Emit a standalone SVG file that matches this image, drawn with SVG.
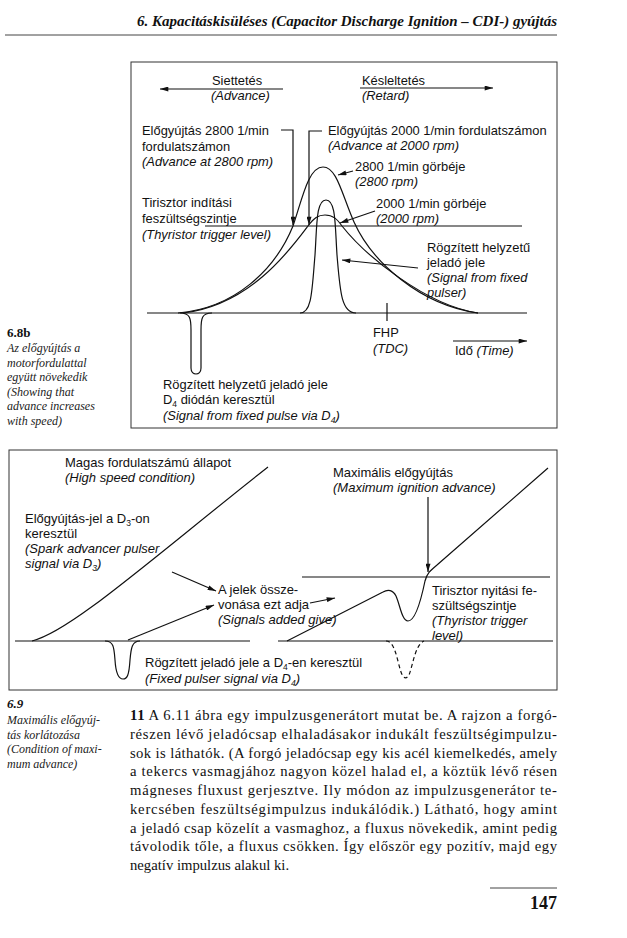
<svg xmlns="http://www.w3.org/2000/svg" width="627" height="938" viewBox="0 0 627 938">
<style>
.t{font-family:"Liberation Sans",Arial,sans-serif;font-size:12.9px;fill:#111}
.b{font-size:13px}
.i{font-style:italic}
.s{font-family:"Liberation Serif","Times New Roman",serif;fill:#111}
.cap{font-family:"Liberation Serif","Times New Roman",serif;font-style:italic;font-size:12px;fill:#222}
.body{font-family:"Liberation Serif","Times New Roman",serif;font-size:14.7px;fill:#111}
.ln{fill:none;stroke:#111;stroke-width:1.2}
.box{fill:none;stroke:#333;stroke-width:1}
.ar{fill:none;stroke:#111;stroke-width:1.2;marker-end:url(#ah)}
</style>
<defs>
<marker id="ah" viewBox="0 0 10 6" refX="10" refY="3" markerWidth="9" markerHeight="5" orient="auto" markerUnits="userSpaceOnUse"><path d="M0,0 L10,3 L0,6 z" fill="#111"/></marker>
</defs>
<rect width="627" height="938" fill="#fff"/>

<g id="header">
<text class="s" x="557" y="26" text-anchor="end" font-size="14" font-weight="bold" font-style="italic" textLength="420" lengthAdjust="spacingAndGlyphs">6. Kapacitáskisüléses (Capacitor Discharge Ignition – CDI-) gyújtás</text>
<line x1="5" y1="35" x2="557" y2="35" stroke="#444" stroke-width="1"/>
</g>

<!-- Figure 6.8b -->
<g id="fig68b-frame"><rect class="box" x="131" y="62" width="426" height="366"/></g>

<g id="fig68b-caption">
<text class="s" x="7" y="337" font-size="13" font-weight="bold">6.8b</text>
<text class="cap" x="7" y="352">Az előgyújtás a</text>
<text class="cap" x="7" y="366.5">motorfordulattal</text>
<text class="cap" x="7" y="381">együtt növekedik</text>
<text class="cap" x="7" y="395.5">(Showing that</text>
<text class="cap" x="7" y="410">advance increases</text>
<text class="cap" x="7" y="424.5">with speed)</text>
</g>

<g id="advance-label"><text class="t" x="212" y="85">Siettetés</text><text class="t i" x="211" y="100">(Advance)</text></g>
<g id="retard-label"><text class="t" x="362" y="85">Késleltetés</text><text class="t i" x="362" y="100">(Retard)</text></g>
<g id="adv2800-label"><text class="t" x="142" y="135">Előgyújtás 2800 1/min</text><text class="t" x="142" y="151">fordulatszámon</text><text class="t i" x="142" y="166">(Advance at 2800 rpm)</text></g>
<g id="adv2000-label"><text class="t" x="328" y="135">Előgyújtás 2000 1/min fordulatszámon</text><text class="t i" x="328" y="150">(Advance at 2000 rpm)</text></g>
<g id="curve2800-label"><text class="t" x="355" y="171">2800 1/min görbéje</text><text class="t i" x="355" y="186">(2800 rpm)</text></g>
<g id="curve2000-label"><text class="t" x="376" y="208">2000 1/min görbéje</text><text class="t i" x="376" y="223">(2000 rpm)</text></g>
<g id="trigger-label"><text class="t" x="142" y="207">Tirisztor indítási</text><text class="t" x="142" y="223">feszültségszintje</text><text class="t i" x="142" y="239">(Thyristor trigger level)</text></g>
<g id="fixed-signal-label"><text class="t" x="427" y="252">Rögzített helyzetű</text><text class="t" x="427" y="267">jeladó jele</text><text class="t i" x="427" y="282">(Signal from fixed</text><text class="t i" x="427" y="297">pulser)</text></g>
<g id="tdc-label"><text class="t" x="373" y="337">FHP</text><text class="t i" x="373" y="353">(TDC)</text></g>
<g id="time-label"><text class="t" x="455" y="355">Idő <tspan class="i">(Time)</tspan></text></g>
<g id="d4-label"><text class="t" x="163" y="389">Rögzített helyzetű jeladó jele</text><text class="t" x="163" y="404">D<tspan dy="3" font-size="8.5">4</tspan><tspan dy="-3"> diódán keresztül</tspan></text><text class="t i" x="163" y="420">(Signal from fixed pulse via D<tspan dy="3" font-size="8.5">4</tspan><tspan dy="-3">)</tspan></text></g>

<g id="fig68b-curves">
<line class="ln" x1="147" y1="313" x2="527" y2="313"/>
<line class="ln" x1="205" y1="226" x2="522" y2="226"/>
<line class="ln" x1="387" y1="303" x2="387" y2="321"/>
<path id="curve2800" class="ln" d="M178,313 C235,308 275,270 293,226 C302,200 308,167 323,167 C337,167 342,195 354,222 C372,262 420,305 478,313"/>
<path id="curve2000" class="ln" d="M183,313 C250,305 290,250 308,226 C314,218 318,215 325,215 C333,215 337,219 342,226 C365,255 425,305 478,313"/>
<path id="fixed-pulse" class="ln" d="M300,313 C312,313 312,290 315,255 C317,225 316,200 326,200 C336,200 335,225 337,255 C340,290 341,313 356,313"/>
<path id="neg-pulse" class="ln" d="M180,313 C190,313 191,318 191,330 L191,368 C191,376 201,376 201,368 L201,330 C201,318 202,313 212,313"/>
</g>

<g id="fig68b-connectors">
<line class="ar" x1="283" y1="89" x2="160" y2="89"/>
<line class="ar" x1="360" y1="88" x2="493" y2="88"/>
<polyline class="ar" points="281,130 293,130 293,225"/>
<polyline class="ar" points="322,131 309,131 309,225"/>
<line class="ar" x1="353" y1="171" x2="338" y2="175"/>
<line class="ar" x1="375" y1="211" x2="340" y2="223"/>
<line class="ar" x1="418" y1="268" x2="342" y2="260"/>
<line class="ar" x1="453" y1="341" x2="527" y2="341"/>
</g>

<!-- Figure 6.9 -->
<g id="fig69-frame"><rect class="box" x="9" y="450" width="548" height="240"/></g>

<g id="high-speed-label"><text class="t b" x="65" y="467">Magas fordulatszámú állapot</text><text class="t b i" x="65" y="482">(High speed condition)</text></g>
<g id="max-advance-label"><text class="t b" x="333" y="477">Maximális előgyújtás</text><text class="t b i" x="333" y="492">(Maximum ignition advance)</text></g>
<g id="spark-label"><text class="t b" x="25" y="523">Előgyújtás-jel a D<tspan dy="3" font-size="8.5">3</tspan><tspan dy="-3">-on</tspan></text><text class="t b" x="25" y="538">keresztül</text><text class="t b i" x="25" y="553">(Spark advancer pulser</text><text class="t b i" x="25" y="568">signal via D<tspan dy="3" font-size="8.5">3</tspan><tspan dy="-3">)</tspan></text></g>
<g id="sum-label"><text class="t b" x="218" y="594">A jelek össze-</text><text class="t b" x="218" y="609">vonása ezt adja</text><text class="t b i" x="218" y="624">(Signals added give)</text></g>
<g id="trigger2-label"><text class="t b" x="432" y="595">Tirisztor nyitási fe-</text><text class="t b" x="432" y="610">szültségszintje</text><text class="t b i" x="432" y="625">(Thyristor trigger</text><text class="t b i" x="432" y="640">level)</text></g>
<g id="fixed-pulser-label"><text class="t b" x="145" y="667">Rögzített jeladó jele a D<tspan dy="3" font-size="8.5">4</tspan><tspan dy="-3">-en keresztül</tspan></text><text class="t b i" x="145" y="683">(Fixed pulser signal via D<tspan dy="3" font-size="8.5">4</tspan><tspan dy="-3">)</tspan></text></g>

<g id="fig69-curves">
<line class="ln" x1="15" y1="641" x2="250" y2="641"/>
<line class="ln" x1="278" y1="641" x2="553" y2="641"/>
<line class="ln" x1="302" y1="577" x2="550" y2="577"/>
<path id="spark-signal" class="ln" d="M32,641 C70,632 150,560 268,467"/>
<path id="left-pulse" class="ln" d="M105,641 C114,641 114,648 115,660 C116,676 120,679 123,679 C127,679 129,676 130,660 C131,648 132,641 140,641"/>
<path id="sum-signal" class="ln" d="M287,641 L383,592 C388,589 393,590 396,596 C400,605 402,621 408,621 C414,621 420,605 425,581 C427,573 431,570 437,565 L548,468"/>
<path id="dashed-pulse" class="ln" stroke-dasharray="4,3" d="M386,641 C395,641 397,660 401,672 C403,678 406,680 409,675 C413,665 415,645 424,641"/>
</g>

<g id="fig69-connectors">
<line class="ar" x1="172" y1="572" x2="216" y2="591"/>
<line class="ar" x1="128" y1="640" x2="214" y2="605"/>
<line class="ar" x1="310" y1="603" x2="335" y2="598"/>
<line class="ar" x1="428" y1="497" x2="428" y2="572"/>
</g>

<g id="fig69-caption">
<text class="s" x="7" y="708" font-size="13" font-weight="bold" font-style="italic">6.9</text>
<text class="cap" x="7" y="724">Maximális előgyúj-</text>
<text class="cap" x="7" y="738.5">tás korlátozása</text>
<text class="cap" x="7" y="753">(Condition of maxi-</text>
<text class="cap" x="7" y="767.5">mum advance)</text>
</g>

<g id="body-text">
<text class="body" x="130" y="720" textLength="427" lengthAdjust="spacing"><tspan font-weight="bold">11</tspan> A 6.11 ábra egy impulzusgenerátort mutat be. A rajzon a forgó-</text>
<text class="body" x="130" y="738.75" textLength="427" lengthAdjust="spacing">részen lévő jeladócsap elhaladásakor indukált feszültségimpulzu-</text>
<text class="body" x="130" y="757.5" textLength="427" lengthAdjust="spacing">sok is láthatók. (A forgó jeladócsap egy kis acél kiemelkedés, amely</text>
<text class="body" x="130" y="776.25" textLength="427" lengthAdjust="spacing">a tekercs vasmagjához nagyon közel halad el, a köztük lévő résen</text>
<text class="body" x="130" y="795" textLength="427" lengthAdjust="spacing">mágneses fluxust gerjesztve. Ily módon az impulzusgenerátor te-</text>
<text class="body" x="130" y="813.75" textLength="427" lengthAdjust="spacing">kercsében feszültségimpulzus indukálódik.) Látható, hogy amint</text>
<text class="body" x="130" y="832.5" textLength="427" lengthAdjust="spacing">a jeladó csap közelít a vasmaghoz, a fluxus növekedik, amint pedig</text>
<text class="body" x="130" y="851.25" textLength="427" lengthAdjust="spacing">távolodik tőle, a fluxus csökken. Így először egy pozitív, majd egy</text>
<text class="body" x="130" y="870">negatív impulzus alakul ki.</text>
</g>

<g id="page-number">
<line x1="490" y1="888" x2="557" y2="888" stroke="#444" stroke-width="1"/>
<text class="s" x="557" y="909" text-anchor="end" font-size="18" font-weight="bold">147</text>
</g>
</svg>
